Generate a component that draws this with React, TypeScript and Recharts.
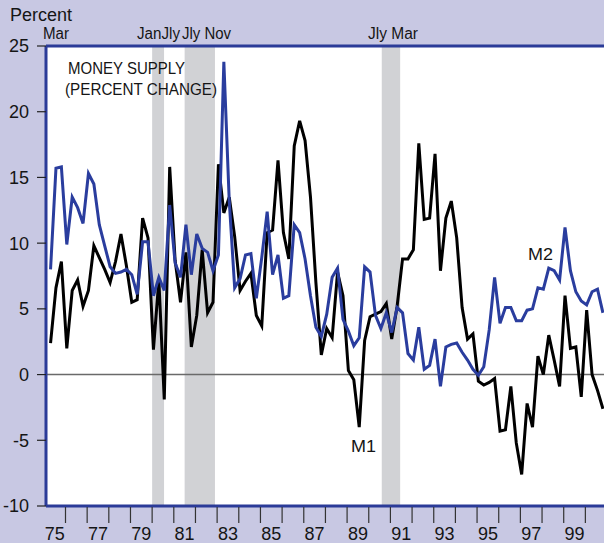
import React from 'react';
import {
  ComposedChart, Line, XAxis, YAxis, CartesianGrid, ReferenceArea, ReferenceLine,
} from 'recharts';

// quarterly observations, first one in spring 1975
const FIRST_OBS = 1975.31;
const STEP = 0.25;

const m1 = [
  2.4, 6.6, 8.6, 2.0, 6.4, 7.2, 5.2, 6.4, 9.8, 8.9, 8.0, 7.0, 8.6, 10.7, 8.3, 5.5,
  5.7, 11.9, 10.4, 1.9, 7.2, -1.9, 15.8, 8.7, 5.5, 9.3, 2.1, 4.5, 9.5, 4.7, 5.5, 16.0,
  12.3, 13.5, 10.5, 6.4, 7.1, 7.7, 4.5, 3.7, 10.8, 11.0, 16.3, 10.8, 8.8, 17.4, 19.3, 17.8,
  13.5, 7.0, 1.5, 3.5, 2.8, 7.8, 6.0, 0.3, -0.4, -4.0, 2.6, 4.4, 4.6, 4.8, 5.4, 2.7,
  5.2, 8.8, 8.8, 9.5, 17.6, 11.8, 11.9, 16.8, 7.9, 11.9, 13.2, 10.4, 5.1, 2.7, 3.1, -0.5,
  -0.8, -0.6, -0.3, -4.3, -4.2, -0.9, -5.2, -7.6, -2.2, -4.0, 1.4, 0.0, 3.0, 1.1, -0.9, 6.0,
  2.0, 2.1, -1.7, 4.9, 0.0, -1.2, -2.6,
];

const m2 = [
  8.0, 15.7, 15.8, 9.9, 13.5, 12.7, 11.5, 15.3, 14.5, 11.4, 9.8, 8.2, 7.7, 7.8, 8.0, 7.6,
  6.1, 10.1, 10.1, 6.0, 7.4, 6.4, 12.9, 8.5, 7.4, 11.4, 7.6, 10.7, 9.6, 9.3, 7.9, 9.1,
  23.8, 13.2, 6.6, 7.3, 9.1, 9.2, 5.8, 8.9, 12.4, 7.6, 9.1, 5.8, 6.0, 11.4, 10.8, 8.8,
  6.0, 3.6, 2.9, 4.6, 7.4, 8.1, 4.2, 3.3, 2.2, 2.8, 8.2, 7.8, 4.5, 3.5, 4.7, 3.2,
  5.1, 4.7, 1.6, 1.1, 3.6, 0.4, 0.7, 2.7, -0.9, 2.1, 2.3, 2.4, 1.7, 1.1, 0.4, -0.05,
  0.6, 3.4, 7.4, 3.9, 5.1, 5.1, 4.1, 4.1, 4.9, 5.0, 6.6, 6.5, 8.1, 7.9, 7.2, 11.2,
  7.9, 6.3, 5.6, 5.3, 6.3, 6.5, 4.7,
];

const yTicks = [-10, -5, 0, 5, 10, 15, 20, 25];
const yearTicks = [
  1976, 1977, 1978, 1979, 1980, 1981, 1982, 1983, 1984, 1985, 1986, 1987, 1988,
  1989, 1990, 1991, 1992, 1993, 1994, 1995, 1996, 1997, 1998, 1999, 2000,
];
const yearLabels = ['75', '77', '79', '81', '83', '85', '87', '89', '91', '93', '95', '97', '99'];

const recessions = [
  { from: 1980.0, to: 1980.55 },
  { from: 1981.5, to: 1982.9 },
  { from: 1990.6, to: 1991.45 },
];

const data = m1.map((v, i) => ({ t: FIRST_OBS + i * STEP, m1: v, m2: m2[i] }));
const labelTicks = yearLabels.map((l) => 1900 + Number(l) + 0.5);

const FONT = "'Liberation Sans', Arial, Helvetica, sans-serif";
const BG = '#c8c8e3';
const FRAME = '#2b3b98';
const BLUE = '#2a3d9e';

const XTick = (props: any) => {
  const { x, y, payload } = props;
  const v = payload.value as number;
  if (Number.isInteger(v)) {
    return <line x1={x} x2={x} y1={y + 1} y2={y + 17} stroke="#333" strokeWidth={1.2} />;
  }
  return (
    <text x={x} y={y + 34} textAnchor="middle" fontSize={18} fill="#151515" fontFamily={FONT}>
      {String(Math.floor(v)).slice(2)}
    </text>
  );
};

const Notes = () => (
  <svg width={604} height={543} style={{ position: 'absolute', left: 0, top: 0, pointerEvents: 'none' }}>
    <g fontFamily={FONT} fill="#151515">
      <text x={10} y={21} fontSize={18} textLength={62} lengthAdjust="spacingAndGlyphs">Percent</text>
      <text x={43} y={39} fontSize={16} textLength={26} lengthAdjust="spacingAndGlyphs">Mar</text>
      <text x={137} y={39} fontSize={16} textLength={43} lengthAdjust="spacingAndGlyphs">JanJly</text>
      <text x={182} y={39} fontSize={16} textLength={49} lengthAdjust="spacingAndGlyphs">Jly Nov</text>
      <text x={368} y={39} fontSize={16} textLength={50} lengthAdjust="spacingAndGlyphs">Jly Mar</text>
      <text x={68} y={74} fontSize={17} textLength={117} lengthAdjust="spacingAndGlyphs">MONEY SUPPLY</text>
      <text x={65} y={95} fontSize={17} textLength={152} lengthAdjust="spacingAndGlyphs">(PERCENT CHANGE)</text>
      <text x={351} y={452} fontSize={17} textLength={25} lengthAdjust="spacingAndGlyphs">M1</text>
      <text x={528} y={260} fontSize={17} textLength={25} lengthAdjust="spacingAndGlyphs">M2</text>
    </g>
  </svg>
);

export default function App() {
  return (
    <div style={{ position: 'absolute', left: 0, top: 0, width: 604, height: 543, background: BG, overflow: 'hidden' }}>
      <ComposedChart width={604} height={543} data={data} margin={{ top: 46, right: 0, bottom: 0, left: 0 }}>
        <CartesianGrid horizontal={false} vertical={false} fill="#ffffff" />
        {recessions.map((r) => (
          <ReferenceArea key={r.from} x1={r.from} x2={r.to} y1={-10} y2={25} fill="#d1d2d5" fillOpacity={1} stroke="none" />
        ))}
        <XAxis
          dataKey="t"
          type="number"
          domain={[1975.1, 2000.86]}
          allowDataOverflow
          ticks={[...yearTicks, ...labelTicks]}
          interval={0}
          tick={<XTick />}
          tickLine={false}
          axisLine={false}
          tickSize={0}
          tickMargin={0}
          height={37}
        />
        <YAxis
          type="number"
          domain={[-10, 25]}
          ticks={yTicks}
          interval={0}
          width={46}
          axisLine={false}
          tickSize={9}
          tickMargin={8}
          tickLine={{ stroke: '#222', strokeWidth: 1.2 }}
          tick={{ fontSize: 18, fill: '#151515', fontFamily: FONT }}
        />
        <ReferenceLine y={0} stroke="#6a6a6a" strokeWidth={1.5} />
        <Line type="linear" dataKey="m1" stroke="#000000" strokeWidth={3} dot={false} isAnimationActive={false} />
        <Line type="linear" dataKey="m2" stroke={BLUE} strokeWidth={3} dot={false} isAnimationActive={false} />
        <ReferenceLine y={25} stroke={FRAME} strokeWidth={3} />
        <ReferenceLine y={-10} stroke={FRAME} strokeWidth={3} />
        <ReferenceLine x={1975.1} stroke={FRAME} strokeWidth={3} />
      </ComposedChart>
      <Notes />
    </div>
  );
}
